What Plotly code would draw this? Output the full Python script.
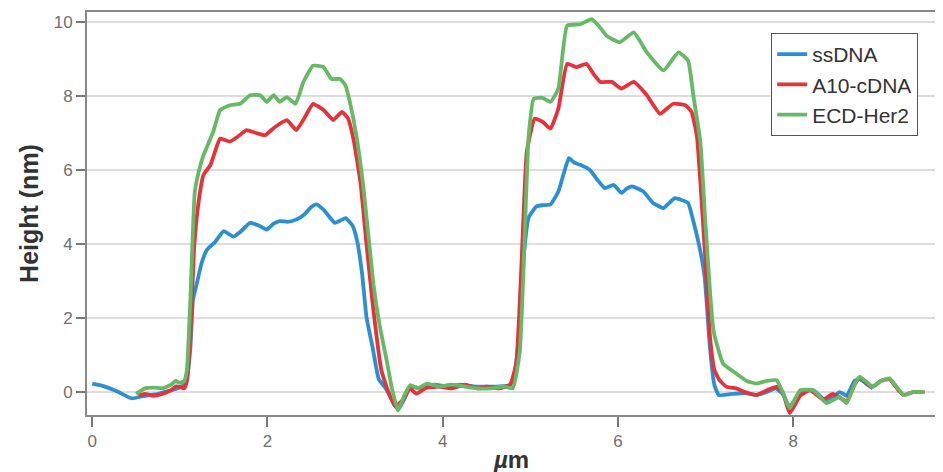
import plotly.graph_objects as go

# ---- data ----
ss_x = [0, 0.1, 0.2, 0.3, 0.45, 0.6, 0.75, 0.9, 1.0, 1.07, 1.12, 1.15, 1.19, 1.25, 1.31, 1.4, 1.5, 1.61,
        1.7, 1.8, 1.9, 1.99, 2.07, 2.14, 2.23, 2.33, 2.42, 2.5, 2.56, 2.65, 2.77, 2.89, 2.97, 3.02, 3.08,
        3.13, 3.2, 3.27, 3.35, 3.42, 3.49, 3.56, 3.63, 3.75, 3.9, 4.05, 4.2, 4.35, 4.5, 4.65, 4.77, 4.82,
        4.87, 4.93, 4.98, 5.07, 5.15, 5.23, 5.32, 5.38, 5.44, 5.5, 5.57, 5.68, 5.76, 5.85, 5.95, 6.04, 6.1,
        6.16, 6.29, 6.4, 6.52, 6.58, 6.65, 6.8, 6.86, 6.94, 6.99, 7.05, 7.1, 7.15, 7.3, 7.45, 7.58, 7.7,
        7.8, 7.88, 7.96, 8.08, 8.23, 8.38, 8.53, 8.61, 8.7, 8.76, 8.85, 8.91]
ss_y = [0.23, 0.18, 0.1, 0.0, -0.17, -0.1, -0.05, 0.05, 0.12, 0.25, 1.2, 2.5, 2.9, 3.5, 3.85, 4.05, 4.35, 4.2,
        4.35, 4.57, 4.5, 4.39, 4.55, 4.62, 4.6, 4.66, 4.8, 5.0, 5.07, 4.9, 4.57, 4.7, 4.5, 4.12, 3.2,
        2.02, 1.2, 0.35, 0.1, -0.2, -0.48, -0.2, 0.14, 0.1, 0.2, 0.15, 0.2, 0.15, 0.15, 0.15, 0.19, 0.5,
        1.5, 3.8, 4.71, 5.02, 5.05, 5.07, 5.42, 5.9, 6.32, 6.2, 6.14, 6.0, 5.75, 5.51, 5.6, 5.38, 5.5,
        5.56, 5.42, 5.11, 4.97, 5.1, 5.24, 5.11, 4.62, 3.81, 3.1, 1.2, 0.2, -0.08, -0.05, -0.03, -0.08, 0.0,
        0.1, -0.05, -0.4, 0.0, 0.05, -0.25, 0.0, -0.1, 0.3, 0.35, 0.2, 0.1]

a10_x = [0.53, 0.6, 0.7, 0.8, 0.9, 0.95, 1.0, 1.05, 1.08, 1.12, 1.16, 1.21, 1.27, 1.35, 1.46, 1.57, 1.66,
         1.76, 1.87, 1.97, 2.09, 2.22, 2.33, 2.42, 2.52, 2.64, 2.75, 2.85, 2.92, 2.98, 3.06, 3.13, 3.2,
         3.3, 3.38, 3.46, 3.55, 3.62, 3.7, 3.8, 3.95, 4.1, 4.25, 4.4, 4.54, 4.65, 4.77, 4.84, 4.9, 4.96,
         5.05, 5.14, 5.23, 5.32, 5.42, 5.53, 5.64, 5.72, 5.8, 5.93, 6.04, 6.18, 6.33, 6.48, 6.63, 6.77,
         6.84, 6.9, 6.94, 7.0, 7.05, 7.1, 7.16, 7.24, 7.35, 7.45, 7.58, 7.7, 7.81, 7.88, 7.96, 8.08, 8.19,
         8.34, 8.45, 8.53, 8.61, 8.7, 8.76, 8.85, 8.91, 9.0, 9.1, 9.2, 9.26, 9.37, 9.5]
a10_y = [-0.1, -0.05, -0.1, -0.05, 0.05, 0.15, 0.14, 0.1, 0.3, 1.5, 3.8, 5.07, 5.87, 6.14, 6.85, 6.77, 6.9,
         7.08, 7.0, 6.94, 7.17, 7.35, 7.08, 7.4, 7.79, 7.62, 7.35, 7.57, 7.39, 6.85, 5.69, 4.0, 2.4,
         0.59, 0.0, -0.39, -0.2, 0.1, -0.04, 0.1, 0.15, 0.1, 0.2, 0.1, 0.14, 0.1, 0.2, 0.8, 3.5, 6.5,
         7.39, 7.3, 7.12, 7.66, 8.87, 8.78, 8.87, 8.6, 8.38, 8.38, 8.2, 8.38, 8.02, 7.52, 7.79, 7.75,
         7.57, 6.94, 5.7, 3.5, 1.5, 0.6, 0.32, 0.14, 0.1, 0.0, -0.08, 0.05, 0.14, 0.0, -0.57, -0.1, 0.05,
         -0.2, -0.05, -0.15, -0.25, 0.2, 0.4, 0.2, 0.15, 0.3, 0.35, 0.05, -0.08, 0.0, 0.0]

ecd_x = [0.5, 0.6, 0.7, 0.8, 0.9, 0.95, 1.0, 1.05, 1.08, 1.12, 1.17, 1.22, 1.27, 1.38, 1.46, 1.57, 1.69,
         1.8, 1.92, 1.99, 2.07, 2.14, 2.22, 2.32, 2.41, 2.52, 2.64, 2.73, 2.83, 2.89, 2.94, 3.02, 3.1,
         3.21, 3.28, 3.36, 3.42, 3.49, 3.56, 3.63, 3.72, 3.82, 3.95, 4.1, 4.25, 4.4, 4.55, 4.7, 4.8, 4.88,
         4.94, 4.98, 5.04, 5.14, 5.23, 5.32, 5.42, 5.57, 5.7, 5.78, 5.87, 6.02, 6.18, 6.33, 6.52, 6.69,
         6.8, 6.86, 6.94, 7.0, 7.09, 7.2, 7.35, 7.47, 7.58, 7.7, 7.81, 7.88, 7.96, 8.08, 8.23, 8.38, 8.53,
         8.61, 8.7, 8.76, 8.91, 9.0, 9.1, 9.26, 9.37, 9.5]
ecd_y = [-0.05, 0.1, 0.12, 0.1, 0.2, 0.3, 0.25, 0.3, 0.6, 2.5, 5.4, 6.0, 6.4, 7.03, 7.62, 7.75, 7.79,
         8.02, 8.02, 7.84, 8.02, 7.84, 7.97, 7.79, 8.38, 8.82, 8.78, 8.46, 8.46, 8.29, 7.84, 6.85, 5.42,
         2.9, 1.8, 0.86, 0.1, -0.5, -0.1, 0.19, 0.1, 0.23, 0.15, 0.2, 0.15, 0.1, 0.1, 0.15, 0.1, 1.1,
         4.5, 6.9, 7.93, 7.95, 7.84, 8.2, 9.9, 9.94, 10.08, 9.9, 9.63, 9.45, 9.72, 9.18, 8.69, 9.18,
         8.96, 8.02, 6.77, 4.5, 1.66, 0.77, 0.5, 0.3, 0.23, 0.3, 0.32, 0.0, -0.44, 0.05, 0.05, -0.3, -0.13,
         -0.3, 0.2, 0.41, 0.14, 0.3, 0.37, -0.08, 0.0, 0.0]

series_names = ["ssDNA", "A10-cDNA", "ECD-Her2"]
series_colors = ["#2b8fd2", "#e5323b", "#66b965"]
x_tickvals = [0, 2, 4, 6, 8]
y_tickvals = [0, 2, 4, 6, 8, 10]

fig = go.Figure()
for name, xs, ys, col in zip(series_names, [ss_x, a10_x, ecd_x], [ss_y, a10_y, ecd_y], series_colors):
    fig.add_trace(go.Scatter(x=xs, y=ys, mode="lines", name=name,
                             line=dict(color=col, width=3.8, shape="spline", smoothing=0.4)))

axis_font = dict(family="Liberation Sans Narrow, Liberation Sans, Arial", size=17, color="#707070")
fig.update_layout(
    width=943, height=472,
    # page body adds an 8px offset; margins compensate for it
    margin=dict(l=79, r=15, t=2, b=65),
    paper_bgcolor="white", plot_bgcolor="white",
    showlegend=True,
    legend=dict(x=0.979, y=0.948, xanchor="right", yanchor="top",
                bordercolor="#555555", borderwidth=1, bgcolor="white",
                font=dict(family="Liberation Sans, Arial", size=21, color="#333333"),
                itemwidth=30, tracegroupgap=0),
    xaxis=dict(range=[-0.06, 9.63], tickvals=x_tickvals, ticks="outside", ticklen=10,
               tickcolor="#777777", tickwidth=1.5, showgrid=False, zeroline=False,
               showline=True, linecolor="#888888", linewidth=2, mirror=True,
               tickfont=axis_font,
               title=dict(text="<b><i>µ</i>m</b>",
                          font=dict(family="Liberation Sans, Arial", size=24, color="#333333"), standoff=1)),
    yaxis=dict(range=[-0.62, 10.27], tickvals=y_tickvals, ticks="outside", ticklen=9,
               tickcolor="#777777", tickwidth=1.5, showgrid=True, gridcolor="#dddddd", gridwidth=2,
               zeroline=False, showline=True, linecolor="#888888", linewidth=2, mirror=True,
               tickfont=axis_font,
               title=dict(text="<b>Height (nm)</b>",
                          font=dict(family="Liberation Sans, Arial", size=25, color="#333333"), standoff=8)),
)

fig.write_html("out.html")
